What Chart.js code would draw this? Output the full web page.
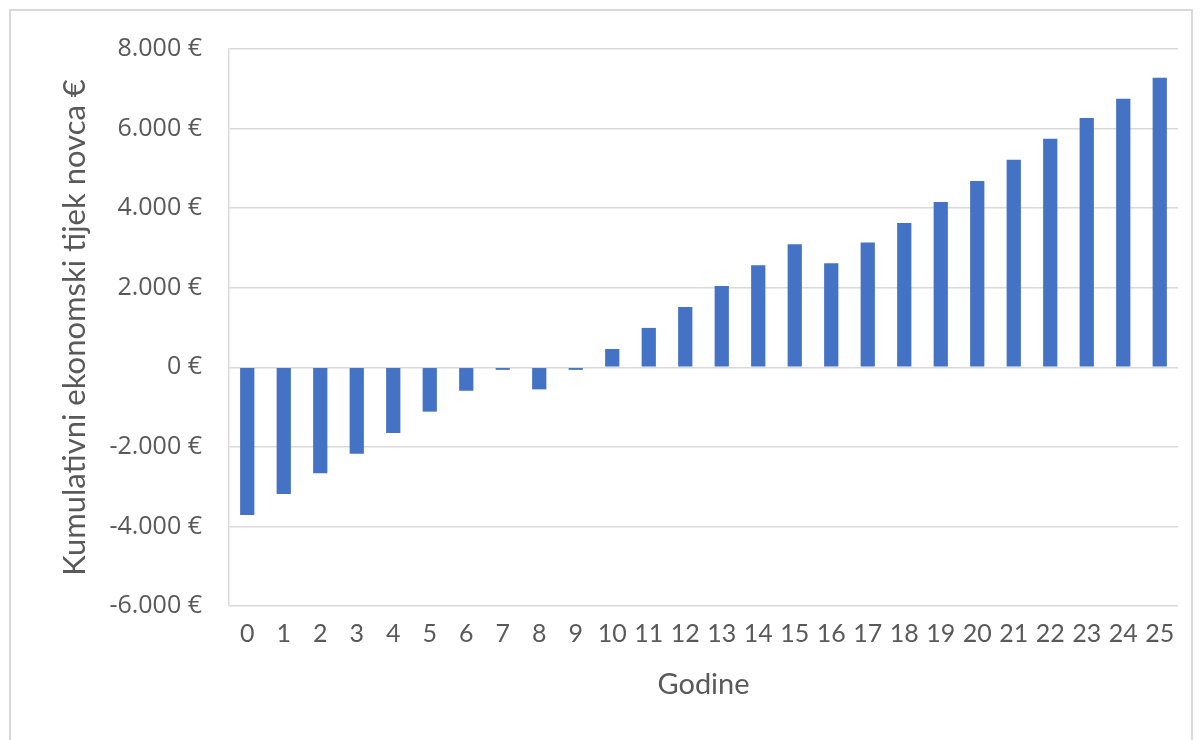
<!DOCTYPE html>
<html>
<head>
<meta charset="utf-8">
<script src="https://cdn.jsdelivr.net/npm/chart.js@4/dist/chart.umd.min.js"></script>
<style>
  html, body { margin: 0; padding: 0; background: #fff; }
  #wrap { position: relative; width: 1204px; height: 740px; overflow: hidden; }
  #frame { position: absolute; left: 9px; top: 9px; width: 1184px; height: 760px; border: 2px solid #d9d9d9; box-sizing: border-box; }
  #cashChart { position: absolute; left: 0; top: 0; }
</style>
</head>
<body>
<div id="wrap">
  <div id="frame"></div>
  <canvas id="cashChart" width="1204" height="740"></canvas>
</div>
<script>
const years = ['0', '1', '2', '3', '4', '5', '6', '7', '8', '9', '10', '11', '12',
  '13', '14', '15', '16', '17', '18', '19', '20', '21', '22', '23', '24', '25'];

const cumulativeCashFlow = [
  -3715, -3185, -2665, -2175, -1650, -1115, -590, -65, -555, -65,
  460, 990, 1515, 2045, 2565, 3095, 2615, 3135, 3625, 4155,
  4685, 5215, 5745, 6265, 6750, 7280,
];

const yMin = -6000;
const yMax = 8000;
const yStep = 2000;

const xTitle = 'Godine';
const yTitle = 'Kumulativni ekonomski tijek novca €';

const textColor = '#595959';
const gridColor = '#d9d9d9';
const barColor = '#4472C4';

const euro = (v) => {
  const sign = v < 0 ? '-' : '';
  const abs = Math.abs(v).toString().replace(/\B(?=(\d{3})+(?!\d))/g, '.');
  return sign + abs + ' €';
};

const ctx = document.getElementById('cashChart').getContext('2d');

const cashChart = new Chart(ctx, {
  type: 'bar',
  data: {
    labels: years,
    datasets: [
      {
        label: yTitle,
        data: cumulativeCashFlow,
        backgroundColor: barColor,
        borderWidth: 0,
        categoryPercentage: 1,
        barPercentage: 0.39,
      },
    ],
  },
  options: {
    responsive: false,
    animation: false,
    layout: {
      padding: { left: 0, top: 49, right: 26, bottom: 0 },
    },
    plugins: {
      legend: { display: false },
      tooltip: { enabled: false },
    },
    scales: {
      x: {
        grid: { display: false, drawTicks: false },
        border: { display: false },
        ticks: {
          color: textColor,
          font: { family: 'Lato', size: 25 },
          autoSkip: false,
          maxRotation: 0,
          minRotation: 0,
          padding: 13,
        },
        title: {
          display: true,
          text: xTitle,
          color: textColor,
          font: { family: 'Lato', size: 29 },
          padding: { top: 0, bottom: 38 },
        },
        afterFit: (scale) => {
          scale.height = 134;
        },
      },
      y: {
        min: yMin,
        max: yMax,
        grid: { color: gridColor, lineWidth: 1.5, drawTicks: false },
        border: { display: true, color: gridColor, width: 1.5 },
        ticks: {
          stepSize: yStep,
          color: textColor,
          font: { family: 'Open Sans', size: 25 },
          padding: 27,
          callback: (value) => euro(value),
        },
        title: {
          display: true,
          text: yTitle,
          color: textColor,
          font: { family: 'Lato', size: 31 },
          padding: { top: 56, bottom: 0 },
        },
        afterFit: (scale) => {
          scale.width = 229;
        },
      },
    },
  },
});
</script>
</body>
</html>
